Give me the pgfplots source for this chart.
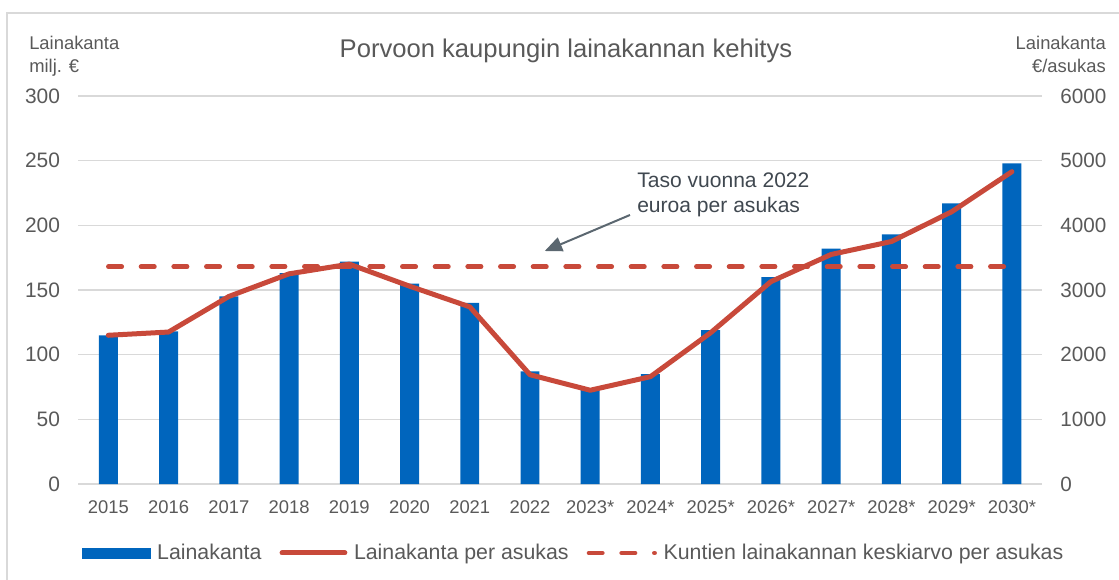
\documentclass[border=0pt]{standalone}
\usepackage{fontspec}
\setmainfont{Liberation Sans}
\usepackage{pgfplots}
\usepackage{pgfplotstable}
\pgfplotsset{compat=1.18}
\usetikzlibrary{arrows.meta}
\definecolor{barblue}{RGB}{0,101,189}
\definecolor{linered}{RGB}{200,73,58}
\definecolor{gridgray}{RGB}{217,217,217}
\definecolor{txtgray}{RGB}{89,89,89}
\definecolor{annogray}{RGB}{64,72,80}
\definecolor{arrowgray}{RGB}{91,103,112}
\pgfplotstableread{
x bar line avg
0 115 2300 3360
1 118 2350 3360
2 145 2900 3360
3 163 3250 3360
4 172 3400 3360
5 155 3060 3360
6 140 2740 3360
7 87 1690 3360
8 73 1450 3360
9 85 1660 3360
10 119 2340 3360
11 160 3130 3360
12 182 3550 3360
13 193 3750 3360
14 217 4210 3360
15 248 4830 3360
}\datatable
\begin{document}
\begin{tikzpicture}
\useasboundingbox (0pt,0pt) rectangle (839.25pt,434.25pt);
\draw[gridgray, line width=1.5pt] (5.25pt,-5pt) -- (5.25pt,424.5pt) -- (850pt,424.5pt);
\pgfplotsset{common/.style={scale only axis, width=722.85pt, height=291pt,
  at={(58.65pt,71.25pt)}, anchor=south west, xmin=-0.5, xmax=15.5,
  /pgf/number format/assume math mode=true, /pgf/number format/1000 sep={},
  scaled y ticks=false, tick style={draw=none}, major tick length=0pt}}
\begin{axis}[common, ymin=0, ymax=300, ytick={0,50,...,300},
  ymajorgrids, grid style={gridgray, line width=1.1pt},
  axis x line*=bottom, axis y line*=left, y axis line style={draw=none},
  x axis line style={gridgray, line width=1.1pt, -},
  xtick={0,...,15},
  xticklabels={2015,2016,2017,2018,2019,2020,2021,2022,2023*,2024*,2025*,2026*,2027*,2028*,2029*,2030*},
  xticklabel style={anchor=north, inner sep=0pt, yshift=-12.5pt, font=\fontsize{13.8pt}{16pt}\selectfont, text=txtgray},
  yticklabel style={anchor=east, inner sep=0pt, xshift=-13.5pt, font=\fontsize{15.7pt}{18pt}\selectfont, text=txtgray},
  ybar, bar width=0.315]
\addplot[fill=barblue, draw=none] table[x=x,y=bar]{\datatable};
\end{axis}
\begin{axis}[common, ymin=0, ymax=6000, ytick={0,1000,...,6000},
  axis y line*=right, axis x line=none, y axis line style={draw=none},
  yticklabel style={anchor=west, inner sep=0pt, xshift=13.5pt, font=\fontsize{15.5pt}{18pt}\selectfont, text=txtgray},
  legend columns=3,
  legend style={at={(0.0039,-0.1778)}, anchor=west, draw=none, fill=none, inner sep=0pt, outer sep=0pt,
    font=\fontsize{16pt}{19pt}\selectfont, text=txtgray,
    /tikz/every odd column/.append style={column sep=3pt},
    /tikz/every even column/.append style={column sep=11.5pt}},
  legend cell align=left]
\addlegendimage{legend image code/.code={\fill[barblue] (0pt,-3.75pt) rectangle (51pt,3.75pt);}}
\addlegendentry{Lainakanta}
\addlegendimage{legend image code/.code={\draw[linered, line width=3.75pt, line cap=round] (1.9pt,0pt) -- (49pt,0pt);}}
\addlegendentry{Lainakanta per asukas}
\addlegendimage{legend image code/.code={\draw[linered, line width=3.4pt, line cap=round, dash pattern=on 10.1pt off 14.4pt] (1.7pt,0pt) -- (51pt,0pt);}}
\addlegendentry{Kuntien lainakannan keskiarvo per asukas}
\addplot[forget plot, linered, line width=3.4pt, line cap=round, dash pattern=on 10.1pt off 14.4pt] table[x=x,y=avg]{\datatable};
\addplot[forget plot, linered, line width=3.75pt, line cap=round, line join=round] table[x=x,y=line]{\datatable};
\draw[arrowgray, line width=1.5pt, -{Triangle[length=13pt,width=11pt]}] (axis cs:8.66,4160) -- (axis cs:7.245,3603);
\end{axis}
\node[anchor=base, text=txtgray, font=\fontsize{19.2pt}{23pt}\selectfont, inner sep=0pt] at (424.5pt,391pt) {Porvoon kaupungin lainakannan kehitys};
\node[anchor=base west, text=txtgray, font=\fontsize{13.8pt}{16pt}\selectfont, inner sep=0pt] at (21.75pt,396.75pt) {Lainakanta};
\node[anchor=base west, text=txtgray, font=\fontsize{13.8pt}{16pt}\selectfont, inner sep=0pt] at (21.75pt,380pt) {milj. €};
\node[anchor=base east, text=txtgray, font=\fontsize{13.8pt}{16pt}\selectfont, inner sep=0pt] at (829.5pt,396.75pt) {Lainakanta};
\node[anchor=base east, text=txtgray, font=\fontsize{13.8pt}{16pt}\selectfont, inner sep=0pt] at (829.5pt,380pt) {€/asukas};
\node[anchor=base west, text=annogray, font=\fontsize{15.8pt}{19pt}\selectfont, inner sep=0pt] at (477.75pt,293.25pt) {Taso vuonna 2022};
\node[anchor=base west, text=annogray, font=\fontsize{15.8pt}{19pt}\selectfont, inner sep=0pt] at (477.75pt,274.5pt) {euroa per asukas};
\end{tikzpicture}
\end{document}
